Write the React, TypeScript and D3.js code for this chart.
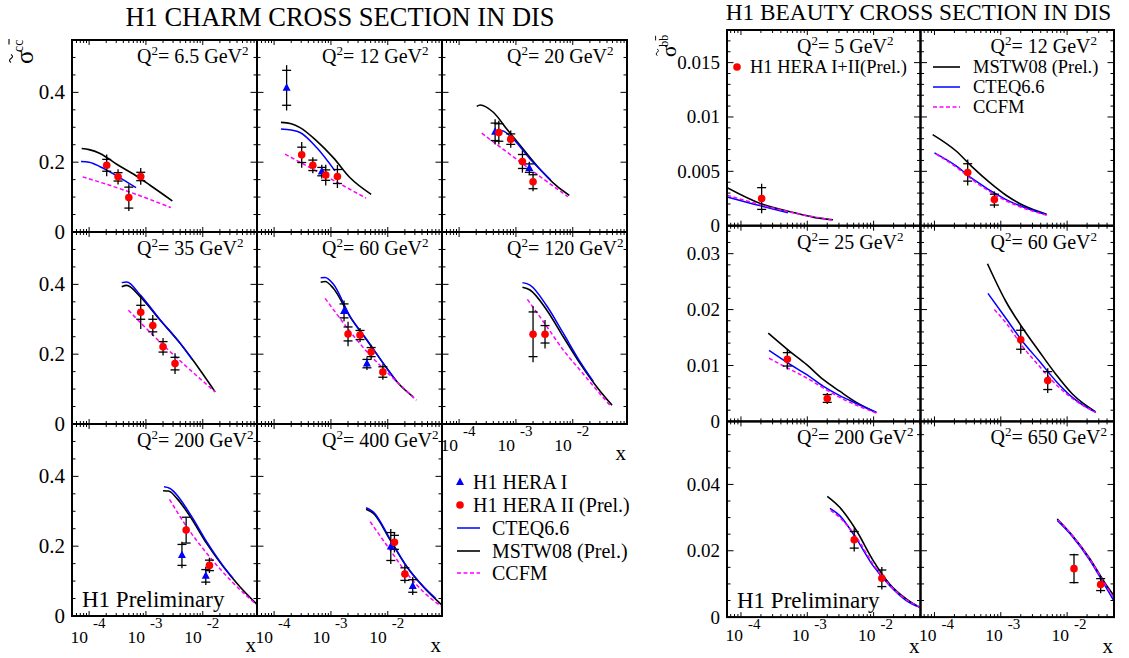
import React from "react";
import * as d3 from "d3";

type Pt = [number, number];
type DP = [number, number, number, number]; // x, value, stat err, total err

// ---------------- CHARM DATA ----------------
const charmQ2 = ["6.5", "12", "20", "35", "60", "120", "200", "400"];

const charmMSTW: Pt[][] = [
  [[7.4e-5, 0.239], [1.0e-4, 0.236], [1.56e-4, 0.225], [3.06e-4, 0.194], [6.0e-4, 0.166], [1.18e-3, 0.134], [2.92e-3, 0.089]],
  [[1.32e-4, 0.314], [2.0e-4, 0.31], [2.86e-4, 0.299], [5.6e-4, 0.261], [1.1e-3, 0.213], [2.15e-3, 0.156], [5.1e-3, 0.108]],
  [[2.04e-4, 0.36], [2.35e-4, 0.364], [4.0e-4, 0.343], [6.9e-4, 0.295], [1.35e-3, 0.237], [2.65e-3, 0.18], [5.2e-3, 0.132], [8.7e-3, 0.105]],
  [[3.75e-4, 0.393], [4.6e-4, 0.397], [7.9e-4, 0.365], [1.77e-3, 0.298], [4.0e-3, 0.231], [9.0e-3, 0.154], [1.65e-2, 0.092]],
  [[6.6e-4, 0.406], [7.9e-4, 0.408], [1.1e-3, 0.389], [2.17e-3, 0.307], [4.3e-3, 0.24], [8.4e-3, 0.173], [1.65e-2, 0.111], [2.8e-2, 0.078]],
  [[1.3e-3, 0.392], [1.77e-3, 0.384], [3.5e-3, 0.326], [6.8e-3, 0.25], [1.35e-2, 0.173], [2.65e-2, 0.106], [4.9e-2, 0.054]],
  [[2.0e-3, 0.359], [2.5e-3, 0.358], [3.5e-3, 0.337], [6.0e-3, 0.285], [1.17e-2, 0.208], [2.3e-2, 0.141], [4.5e-2, 0.084], [8.9e-2, 0.034]],
  [[4.15e-3, 0.306], [5.6e-3, 0.294], [1.1e-2, 0.218], [2.16e-2, 0.141], [4.2e-2, 0.084], [8.9e-2, 0.032]],
];

const charmCTEQ: Pt[][] = [
  [[7.2e-5, 0.202], [1.0e-4, 0.2], [1.56e-4, 0.187], [3.06e-4, 0.161], [6.7e-4, 0.127]],
  [[1.32e-4, 0.295], [2.0e-4, 0.292], [2.86e-4, 0.285], [5.6e-4, 0.242], [1.18e-3, 0.175]],
  [[4.0e-4, 0.285], [5.6e-4, 0.29], [9.0e-4, 0.266], [1.77e-3, 0.209], [4.1e-3, 0.149]],
  [[3.75e-4, 0.405], [4.6e-4, 0.407], [7.9e-4, 0.37], [1.77e-3, 0.299], [4.0e-3, 0.231], [6.5e-3, 0.185]],
  [[6.6e-4, 0.419], [7.9e-4, 0.42], [1.1e-3, 0.401], [2.17e-3, 0.308], [4.3e-3, 0.241], [8.4e-3, 0.173], [1.4e-2, 0.123]],
  [[1.3e-3, 0.405], [1.77e-3, 0.398], [3.5e-3, 0.338], [6.8e-3, 0.26], [1.35e-2, 0.178], [2.3e-2, 0.122]],
  [[2.08e-3, 0.37], [2.6e-3, 0.366], [6.0e-3, 0.292], [1.17e-2, 0.213], [2.3e-2, 0.143], [3.4e-2, 0.108]],
  [[4.15e-3, 0.31], [5.6e-3, 0.298], [1.1e-2, 0.22], [2.16e-2, 0.142], [4.2e-2, 0.085], [7.0e-2, 0.05]],
];

const charmCCFM: Pt[][] = [
  [[7.7e-5, 0.158], [2.0e-4, 0.137], [5.5e-4, 0.113], [2.74e-3, 0.07]],
  [[1.56e-4, 0.223], [7.9e-4, 0.161], [4.15e-3, 0.097]],
  [[2.5e-4, 0.283], [1.35e-3, 0.194], [8.2e-3, 0.101]],
  [[4.9e-4, 0.326], [2.3e-3, 0.217], [5.2e-3, 0.164], [1.65e-2, 0.092]],
  [[7.9e-4, 0.36], [4.3e-3, 0.207], [1.18e-2, 0.135], [3.2e-2, 0.068]],
  [[1.59e-3, 0.357], [3.5e-3, 0.279], [6.8e-3, 0.212], [1.35e-2, 0.154], [2.65e-2, 0.097], [4.5e-2, 0.054]],
  [[2.6e-3, 0.334], [5.2e-3, 0.256], [1.17e-2, 0.18], [3.46e-2, 0.094], [8.9e-2, 0.032]],
  [[4.9e-3, 0.27], [1.1e-2, 0.189], [2.16e-2, 0.122], [4.2e-2, 0.07], [8.9e-2, 0.027]],
];

const charmHera1: DP[][] = [
  [],
  [[1.66e-4, 0.413, 0.05, 0.065], [6.9e-4, 0.173, 0.012, 0.02]],
  [[4.3e-4, 0.287, 0.025, 0.036], [1.72e-3, 0.183, 0.012, 0.018]],
  [],
  [[1.7e-3, 0.324, 0.02, 0.03], [4.3e-3, 0.173, 0.012, 0.018]],
  [],
  [[4.3e-3, 0.175, 0.03, 0.038], [1.13e-2, 0.115, 0.018, 0.026]],
  [[1.13e-2, 0.199, 0.04, 0.05], [2.75e-2, 0.086, 0.018, 0.026]],
];

const charmHera2: DP[][] = [
  [[2.04e-4, 0.191, 0.017, 0.031], [3.23e-4, 0.158, 0.012, 0.022], [5.0e-4, 0.0985, 0.03, 0.038], [8.1e-4, 0.159, 0.012, 0.024]],
  [[3.06e-4, 0.221, 0.022, 0.037], [4.8e-4, 0.191, 0.015, 0.023], [8.1e-4, 0.163, 0.015, 0.03], [1.3e-3, 0.159, 0.02, 0.033]],
  [[5.0e-4, 0.285, 0.025, 0.034], [8.1e-4, 0.266, 0.015, 0.025], [1.3e-3, 0.202, 0.02, 0.032], [2.0e-3, 0.144, 0.02, 0.027]],
  [[8.1e-4, 0.32, 0.02, 0.048], [1.32e-3, 0.282, 0.018, 0.03], [2.0e-3, 0.221, 0.015, 0.025], [3.25e-3, 0.173, 0.018, 0.03]],
  [[2.0e-3, 0.258, 0.02, 0.035], [3.25e-3, 0.255, 0.013, 0.02], [5.1e-3, 0.206, 0.013, 0.021], [8.2e-3, 0.149, 0.015, 0.022]],
  [[2.0e-3, 0.257, 0.064, 0.08], [3.25e-3, 0.257, 0.025, 0.041]],
  [[5.1e-3, 0.246, 0.037, 0.037], [1.31e-2, 0.145, 0.015, 0.022]],
  [[1.31e-2, 0.211, 0.02, 0.029], [2.0e-2, 0.12, 0.018, 0.026]],
];

const charmYTicks = ["0", "0.2", "0.4"];
const xTickLabels = ["-4", "-3", "-2"];

// ---------------- BEAUTY DATA ----------------
const beautyQ2 = ["5", "12", "25", "60", "200", "650"];

const beautyMSTW: Pt[][] = [
  [[6.2e-5, 0.0035], [2.05e-4, 0.002], [5.5e-4, 0.00129], [1.22e-3, 0.00079], [2.44e-3, 0.00054]],
  [[9.4e-5, 0.00838], [2.12e-4, 0.00687], [3.77e-4, 0.00536], [6.7e-4, 0.004], [1.2e-3, 0.0028], [2.13e-3, 0.0019], [4.9e-3, 0.00106]],
  [[2.58e-4, 0.0158], [5.5e-4, 0.0125], [9.7e-4, 0.0102], [1.73e-3, 0.0075], [3.08e-3, 0.0054], [5.5e-3, 0.0034], [1.1e-2, 0.0016]],
  [[6.3e-4, 0.0282], [1.2e-3, 0.0214], [2.13e-3, 0.0167], [3.8e-3, 0.0125], [6.8e-3, 0.0084], [1.2e-2, 0.0049], [2.7e-2, 0.0017]],
  [[2.0e-3, 0.0364], [3.08e-3, 0.0331], [5.5e-3, 0.0261], [9.8e-3, 0.0171], [1.74e-2, 0.01], [3.1e-2, 0.0055], [4.9e-2, 0.003]],
  [[7.1e-3, 0.0296], [1.2e-2, 0.0246], [2.14e-2, 0.018], [3.8e-2, 0.01], [5.05e-2, 0.0065]],
];

const beautyCTEQ: Pt[][] = [
  [[6.2e-5, 0.00265], [2.05e-4, 0.0018], [5.1e-4, 0.0012]],
  [[1.0e-4, 0.0067], [2.12e-4, 0.0055], [3.77e-4, 0.0043], [1.2e-3, 0.0024], [4.9e-3, 0.001]],
  [[2.65e-4, 0.0127], [5.5e-4, 0.0102], [9.7e-4, 0.0084], [1.73e-3, 0.0063], [3.08e-3, 0.0046], [5.5e-3, 0.0032], [1.1e-2, 0.0016]],
  [[6.4e-4, 0.0229], [1.2e-3, 0.0184], [2.13e-3, 0.0143], [3.8e-3, 0.0108], [6.8e-3, 0.0072], [1.2e-2, 0.0043], [2.7e-2, 0.0016]],
  [[2.2e-3, 0.0328], [3.08e-3, 0.0306], [5.5e-3, 0.0236], [9.8e-3, 0.0155], [1.74e-2, 0.0095], [3.1e-2, 0.005], [4.9e-2, 0.003]],
  [[7.1e-3, 0.0291], [1.2e-2, 0.0243], [2.14e-2, 0.0175], [3.8e-2, 0.0092], [5.05e-2, 0.005]],
];

const beautyCCFM: Pt[][] = [
  [[6.2e-5, 0.0028], [2.05e-4, 0.0019], [5.1e-4, 0.0013], [2.55e-3, 0.00048]],
  [[1.05e-4, 0.0066], [2.12e-4, 0.0054], [3.77e-4, 0.0042], [1.2e-3, 0.0023], [5.0e-3, 0.00095]],
  [[2.65e-4, 0.0113], [5.5e-4, 0.0093], [9.7e-4, 0.0078], [1.73e-3, 0.006], [3.08e-3, 0.0043], [1.1e-2, 0.0015]],
  [[8.0e-4, 0.02], [1.2e-3, 0.0176], [2.13e-3, 0.0134], [3.8e-3, 0.0099], [6.8e-3, 0.0066], [1.2e-2, 0.0041], [2.7e-2, 0.0016]],
  [[2.25e-3, 0.0322], [3.08e-3, 0.03], [5.5e-3, 0.0241], [9.8e-3, 0.016], [1.74e-2, 0.0097], [3.1e-2, 0.0053], [4.9e-2, 0.0031]],
  [[7.3e-3, 0.0293], [1.2e-2, 0.0246], [2.14e-2, 0.0178], [3.8e-2, 0.0097], [5.05e-2, 0.0058]],
];

const beautyHera: DP[][] = [
  [[2.05e-4, 0.0025, 0.001, 0.00136]],
  [[3.17e-4, 0.0049, 0.0008, 0.0012], [8.0e-4, 0.0024, 0.0005, 0.00075]],
  [[5.0e-4, 0.0111, 0.0012, 0.0018], [2.0e-3, 0.0041, 0.0007, 0.001]],
  [[2.0e-3, 0.0146, 0.0017, 0.0025], [5.1e-3, 0.0073, 0.0016, 0.0022]],
  [[5.1e-3, 0.0233, 0.0025, 0.0035], [1.33e-2, 0.0117, 0.0025, 0.0034]],
  [[1.27e-2, 0.0146, 0.0042, 0.0045], [3.2e-2, 0.0098, 0.0018, 0.0026]],
];

const beautyRowMax = [0.018, 0.035, 0.059];
const beautyRowMajor = [0.005, 0.01, 0.02];
const beautyRowMinor = [0.001, 0.002, 0.005];
const beautyRowLabels = [["0", "0.005", "0.01", "0.015"], ["0", "0.01", "0.02", "0.03"], ["0", "0.02", "0.04"]];

const charmLegend = ["H1 HERA I", "H1 HERA II (Prel.)", "CTEQ6.6", "MSTW08 (Prel.)", "CCFM"];
const beautyLegend = ["H1 HERA I+II(Prel.)", "MSTW08 (Prel.)", "CTEQ6.6", "CCFM"];

const FONT = "'Liberation Serif', 'Times New Roman', Times, serif";
const RED = "#ff0000";
const BLUE = "#0000ff";
const MAG = "#ff00ff";

interface PanelProps {
  left: number; top: number; w: number; h: number;
  xDomain: [number, number];
  yMax: number; yMajor: number; yMinor: number;
  q2: string; qOffset: number;
  mstw: Pt[]; cteq: Pt[]; ccfm: Pt[];
  hera1: DP[]; hera2: DP[];
  id: string;
}

function Panel(p: PanelProps) {
  const x = d3.scaleLog().domain(p.xDomain).range([p.left, p.left + p.w]);
  const y = d3.scaleLinear().domain([0, p.yMax]).range([p.top + p.h, p.top]);
  const line = d3.line<Pt>().x(d => x(d[0])).y(d => y(d[1])).curve(d3.curveMonotoneX);
  const nY = Math.floor(p.yMax / p.yMinor + 1e-6);
  const yTicks = d3.range(0, nY + 1).map(i => i * p.yMinor);
  const isMajor = (v: number) => Math.abs(v / p.yMajor - Math.round(v / p.yMajor)) < 1e-6;
  const lo = Math.floor(Math.log10(p.xDomain[0]));
  const hi = Math.ceil(Math.log10(p.xDomain[1]));
  const xTicks: { v: number; major: boolean }[] = [];
  for (let e = lo; e < hi; e++) {
    for (let m = 1; m <= 9; m++) {
      const v = m * Math.pow(10, e);
      if (v >= p.xDomain[0] && v <= p.xDomain[1]) xTicks.push({ v, major: m === 1 });
    }
  }
  const L = p.left, R = p.left + p.w, T = p.top, B = p.top + p.h;
  const errBar = (d: DP, k: number) => (
    <g key={"e" + k} stroke="#000" strokeWidth={1.3}>
      <line x1={x(d[0])} x2={x(d[0])} y1={y(d[1] - d[3])} y2={y(d[1] + d[3])} />
      <line x1={x(d[0]) - 4.5} x2={x(d[0]) + 4.5} y1={y(d[1] - d[2])} y2={y(d[1] - d[2])} />
      <line x1={x(d[0]) - 4.5} x2={x(d[0]) + 4.5} y1={y(d[1] + d[2])} y2={y(d[1] + d[2])} />
    </g>
  );
  return (
    <g>
      <defs>
        <clipPath id={"clip" + p.id}>
          <rect x={L} y={T} width={p.w} height={p.h} />
        </clipPath>
      </defs>
      <g clipPath={`url(#clip${p.id})`} fill="none">
        <path d={line(p.mstw) || ""} stroke="#000" strokeWidth={1.6} />
        <path d={line(p.cteq) || ""} stroke={BLUE} strokeWidth={1.5} />
        <path d={line(p.ccfm) || ""} stroke={MAG} strokeWidth={1.5} strokeDasharray="4,2.5" />
      </g>
      {p.hera1.map(errBar)}
      {p.hera2.map((d, k) => errBar(d, k + 100))}
      {p.hera1.map((d, k) => {
        const cx = x(d[0]), cy = y(d[1]);
        return <path key={"t" + k} d={`M${cx},${cy - 4.5}L${cx + 4},${cy + 3}L${cx - 4},${cy + 3}Z`} fill={BLUE} />;
      })}
      {p.hera2.map((d, k) => (
        <circle key={"c" + k} cx={x(d[0])} cy={y(d[1])} r={3.8} fill={RED} />
      ))}
      <g stroke="#000" strokeWidth={1}>
        {yTicks.map((v, k) => {
          const len = isMajor(v) ? 6.5 : 3.5;
          return (
            <g key={"y" + k}>
              <line x1={L} x2={L + len} y1={y(v)} y2={y(v)} />
              <line x1={R} x2={R - len} y1={y(v)} y2={y(v)} />
            </g>
          );
        })}
        {xTicks.map((t, k) => {
          const len = t.major ? 5 : 3;
          return (
            <g key={"x" + k}>
              <line x1={x(t.v)} x2={x(t.v)} y1={B} y2={B - len} />
              <line x1={x(t.v)} x2={x(t.v)} y1={T} y2={T + len} />
            </g>
          );
        })}
      </g>
      <rect x={L} y={T} width={p.w} height={p.h} fill="none" stroke="#000" strokeWidth={2} />
      <text x={L + p.qOffset} y={T + 23} fontSize={20} fontFamily={FONT}>
        Q<tspan dy={-8} fontSize={13}>2</tspan>
        <tspan dy={8}>= {p.q2} GeV</tspan>
        <tspan dy={-8} fontSize={13}>2</tspan>
      </text>
    </g>
  );
}

function XLabels({ left, w, bottom, domain, endDx, expDx, base, expBase }: {
  left: number; w: number; bottom: number; domain: [number, number]; endDx: number; expDx: number; base: number; expBase: number;
}) {
  const x = d3.scaleLog().domain(domain).range([left, left + w]);
  return (
    <g fontFamily={FONT}>
      {[1e-4, 1e-3, 1e-2].map((v, i) => (
        <g key={i}>
          <text x={x(v) + endDx} y={bottom + base} fontSize={17.5} textAnchor="end">10</text>
          <text x={x(v) + expDx} y={bottom + expBase} fontSize={15}>{xTickLabels[i]}</text>
        </g>
      ))}
      <text x={left + w - 1} y={bottom + 36} fontSize={21} textAnchor="end">x</text>
    </g>
  );
}

function YTitle({ tx, ty, scale, sup }: { tx: number; ty: number; scale: number; sup: string }) {
  return (
    <g transform={`translate(${tx},${ty}) rotate(-90) scale(${scale})`} fontFamily={FONT}>
      <text x={0} y={0} fontSize={25}>σ</text>
      <path d="M1.5,-22 q2,-3 4,0 t4,0" fill="none" stroke="#000" strokeWidth={1.1} />
      <text x={12} y={-10} fontSize={14}>{sup}</text>
      <line x1={19.5} x2={25} y1={-24} y2={-24} stroke="#000" strokeWidth={1.1} />
    </g>
  );
}

export default function App() {
  // charm geometry
  const CL = 72, CW = 185, CT = 40, CH = 192;
  const cDom: [number, number] = [5e-5, 0.09];
  const charmPos = [[0, 0], [1, 0], [2, 0], [0, 1], [1, 1], [2, 1], [0, 2], [1, 2]];
  // beauty geometry
  const BL = 727, BW = 193.5, BT = 30, BH = 195.7;
  const bDom: [number, number] = [6.16e-5, 0.0509];
  const beautyPos = [[0, 0], [1, 0], [0, 1], [1, 1], [0, 2], [1, 2]];

  const cy = d3.scaleLinear().domain([0, 0.55]).range([CH, 0]);

  return (
    <svg width={1129} height={658} style={{ position: "absolute", left: 0, top: 0, background: "#fff" }}>
      <rect x={0} y={0} width={1129} height={658} fill="#fff" />
      {/* Titles */}
      <text x={340} y={26} fontSize={26.5} textAnchor="middle" fontFamily={FONT}>H1 CHARM CROSS SECTION IN DIS</text>
      <text x={918.5} y={20} fontSize={23.3} textAnchor="middle" fontFamily={FONT}>H1 BEAUTY CROSS SECTION IN DIS</text>

      {/* Y titles */}
      <YTitle tx={33} ty={64} scale={1} sup="cc" />
      <YTitle tx={676} ty={57} scale={0.85} sup="bb" />

      {/* Charm panels */}
      {charmQ2.map((q, i) => {
        const [c, r] = charmPos[i];
        return (
          <Panel key={"c" + i} id={"c" + i} left={CL + c * CW} top={CT + r * CH} w={CW} h={CH}
            xDomain={cDom} yMax={0.55} yMajor={0.2} yMinor={0.05} q2={q} qOffset={65}
            mstw={charmMSTW[i]} cteq={charmCTEQ[i]} ccfm={charmCCFM[i]}
            hera1={charmHera1[i]} hera2={charmHera2[i]} />
        );
      })}
      {/* Charm y labels */}
      <g fontFamily={FONT} fontSize={21} textAnchor="end">
        {[0, 1, 2].map(r => charmYTicks.map((lab, k) => (
          <text key={r + "-" + k} x={65} y={CT + r * CH + cy(+lab) + 7}>{lab}</text>
        )))}
      </g>
      {/* Charm x labels */}
      <XLabels left={CL} w={CW} bottom={CT + 3 * CH} domain={cDom} endDx={-1} expDx={4} base={27} expBase={12} />
      <XLabels left={CL + CW} w={CW} bottom={CT + 3 * CH} domain={cDom} endDx={-1} expDx={4} base={27} expBase={12} />
      <XLabels left={CL + 2 * CW} w={CW} bottom={CT + 2 * CH} domain={cDom} endDx={-1} expDx={4} base={27} expBase={12} />
      <text x={82} y={607} fontSize={23} fontFamily={FONT}>H1 Preliminary</text>

      {/* Charm legend */}
      <g fontFamily={FONT} fontSize={20}>
        <path d="M460,477.5L464,485L456,485Z" fill={BLUE} />
        <text x={473} y={489}>{charmLegend[0]}</text>
        <circle cx={460} cy={505} r={3.8} fill={RED} />
        <text x={473} y={512}>{charmLegend[1]}</text>
        <line x1={457} x2={480} y1={528} y2={528} stroke={BLUE} strokeWidth={1.5} />
        <text x={492} y={535}>{charmLegend[2]}</text>
        <line x1={457} x2={480} y1={551} y2={551} stroke="#000" strokeWidth={1.6} />
        <text x={492} y={558}>{charmLegend[3]}</text>
        <line x1={457} x2={480} y1={573} y2={573} stroke={MAG} strokeWidth={1.5} strokeDasharray="4,2.5" />
        <text x={492} y={580}>{charmLegend[4]}</text>
      </g>

      {/* Beauty panels */}
      {beautyQ2.map((q, i) => {
        const [c, r] = beautyPos[i];
        return (
          <Panel key={"b" + i} id={"b" + i} left={BL + c * BW} top={BT + r * BH} w={BW} h={BH}
            xDomain={bDom} yMax={beautyRowMax[r]} yMajor={beautyRowMajor[r]} yMinor={beautyRowMinor[r]}
            q2={q} qOffset={70}
            mstw={beautyMSTW[i]} cteq={beautyCTEQ[i]} ccfm={beautyCCFM[i]}
            hera1={[]} hera2={beautyHera[i]} />
        );
      })}
      {/* Beauty y labels */}
      <g fontFamily={FONT} fontSize={19} textAnchor="end">
        {[0, 1, 2].map(r => {
          const ys = d3.scaleLinear().domain([0, beautyRowMax[r]]).range([BT + (r + 1) * BH, BT + r * BH]);
          return beautyRowLabels[r].map((lab, k) => (
            <text key={r + "-" + k} x={720} y={ys(+lab) + 6.5}>{lab}</text>
          ));
        })}
      </g>
      <XLabels left={BL} w={BW} bottom={BT + 3 * BH} domain={bDom} endDx={2} expDx={7} base={24} expBase={12} />
      <XLabels left={BL + BW} w={BW} bottom={BT + 3 * BH} domain={bDom} endDx={2} expDx={7} base={24} expBase={12} />
      <text x={737} y={608} fontSize={23} fontFamily={FONT}>H1 Preliminary</text>

      {/* Beauty legend */}
      <g fontFamily={FONT} fontSize={18.5}>
        <circle cx={737} cy={67} r={3.8} fill={RED} />
        <text x={750} y={73}>{beautyLegend[0]}</text>
        <line x1={933} x2={960} y1={67} y2={67} stroke="#000" strokeWidth={1.6} />
        <text x={973} y={73}>{beautyLegend[1]}</text>
        <line x1={933} x2={960} y1={87} y2={87} stroke={BLUE} strokeWidth={1.5} />
        <text x={973} y={93}>{beautyLegend[2]}</text>
        <line x1={933} x2={960} y1={107} y2={107} stroke={MAG} strokeWidth={1.5} strokeDasharray="4,2.5" />
        <text x={973} y={113}>{beautyLegend[3]}</text>
      </g>
    </svg>
  );
}
